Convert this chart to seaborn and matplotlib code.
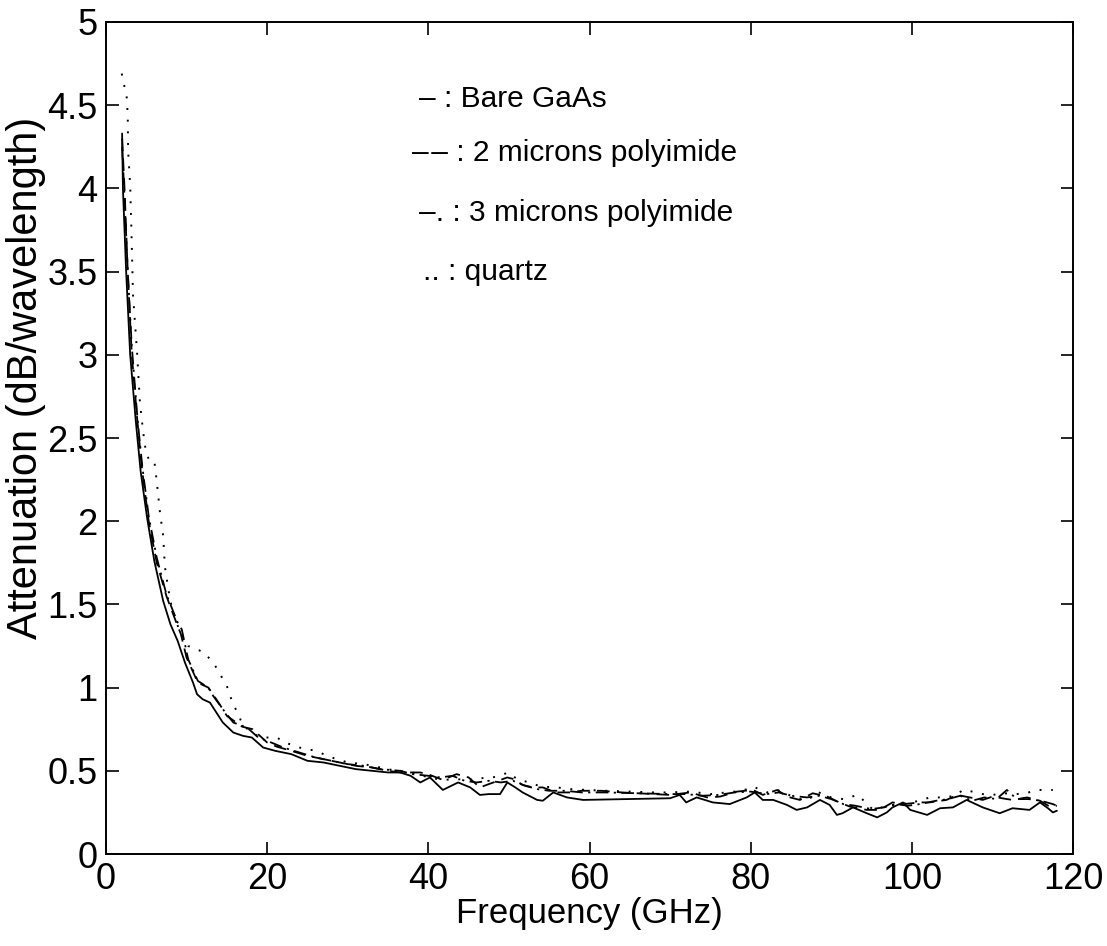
import numpy as np
import pandas as pd
import matplotlib
matplotlib.use("Agg")
import matplotlib.pyplot as plt
import seaborn as sns

# ---------------- data ----------------
freq_bare = [2.0, 2.1, 2.5, 3.0, 3.7, 4.3, 5.1, 6.0, 7.1, 8.0, 8.9, 9.8, 10.8, 11.3, 12.0, 12.9,
             13.7, 14.5, 15.8, 17.0, 18.1, 19.5, 21, 23, 25, 27, 29, 31, 33, 35, 36.5, 37.8, 39,
             40.2, 41.8, 43.7, 45.2, 46.4, 47.5, 48.9, 49.8, 50.8, 51.7, 53.5, 54.2, 55.5, 57.2,
             59.2, 70, 71.2, 72, 73.3, 75.3, 77.4, 79.5, 80.5, 81.5, 82.8, 84.5, 85.7, 87, 88.6,
             89.8, 90.7, 91.4, 92.7, 94.4, 95.7, 96.9, 97.6, 98.9, 99.8, 101.9, 103.5, 105.1,
             106.8, 108.8, 110.9, 112.5, 114.6, 115.9, 116.9, 117.5, 118]
att_bare = [4.33, 4.0, 3.5, 3.0, 2.6, 2.3, 2.02, 1.76, 1.52, 1.38, 1.28, 1.15, 1.03, 0.96, 0.93, 0.91,
            0.85, 0.79, 0.73, 0.71, 0.70, 0.64, 0.62, 0.60, 0.56, 0.55, 0.53, 0.51, 0.50, 0.49, 0.49,
            0.47, 0.43, 0.46, 0.385, 0.43, 0.40, 0.355, 0.36, 0.36, 0.43, 0.40, 0.37, 0.325, 0.32,
            0.37, 0.34, 0.325, 0.335, 0.355, 0.31, 0.34, 0.31, 0.30, 0.34, 0.37, 0.325, 0.325,
            0.295, 0.265, 0.28, 0.325, 0.295, 0.235, 0.245, 0.28, 0.245, 0.22, 0.25, 0.28, 0.31,
            0.265, 0.235, 0.275, 0.28, 0.325, 0.28, 0.245, 0.275, 0.265, 0.31, 0.275, 0.25, 0.26]

freq_pi2 = [2.0, 2.3, 2.7, 3.2, 3.9, 4.5, 5.3, 6.3, 7.5, 8.5, 9.3, 10.0, 11.4, 12.7, 14.1, 15.0,
            16.9, 18.2, 20, 21.2, 23, 25, 27, 29, 31, 33, 35, 36.5, 39, 40.2, 41.8, 43.5, 45,
            46.4, 47.5, 49.8, 50.6, 51.7, 53, 54.2, 55.9, 57.5, 59, 61.5, 64, 68, 70, 72.5, 74.6,
            76.2, 78.3, 80.3, 81.5, 83.3, 84.5, 86.1, 87.7, 89.5, 91, 92.3, 94.4, 96, 97.6, 99,
            101, 102.2, 104.3, 105.6, 107.2, 108.8, 110, 111.8, 112.5, 114.3, 115.9, 117.1, 118]
att_pi2 = [4.3, 4.0, 3.5, 3.0, 2.6, 2.3, 2.0, 1.75, 1.55, 1.42, 1.32, 1.18, 1.03, 1.0, 0.9, 0.83,
           0.765, 0.75, 0.67, 0.645, 0.62, 0.59, 0.57, 0.55, 0.53, 0.52, 0.50, 0.49, 0.49, 0.475,
           0.445, 0.48, 0.46, 0.40, 0.42, 0.46, 0.45, 0.415, 0.40, 0.40, 0.37, 0.37, 0.38, 0.38,
           0.37, 0.36, 0.355, 0.37, 0.34, 0.345, 0.375, 0.385, 0.355, 0.385, 0.345, 0.325, 0.365,
           0.345, 0.31, 0.285, 0.265, 0.265, 0.31, 0.30, 0.31, 0.31, 0.325, 0.355, 0.34, 0.325,
           0.345, 0.33, 0.325, 0.34, 0.32, 0.285, 0.29]

freq_pi3 = [2.0, 2.3, 2.7, 3.2, 3.9, 4.5, 5.3, 6.3, 7.5, 8.9, 9.4, 10.2, 11.4, 12.7, 13.3, 14.5,
            15.8, 17.5, 18.9, 20.5, 22, 24, 26, 28, 30, 32, 34, 36.5, 38, 40, 41.5, 43, 44.5, 46,
            47.5, 49, 50.5, 52, 53.5, 55, 57, 59, 62, 66, 70, 72, 74, 76, 78, 80, 82, 83.5, 85,
            87, 88.5, 90, 91.5, 93, 95, 96.5, 98, 99.5, 101, 103, 104.5, 106, 107.5, 109, 110.5,
            111.8, 113, 114.5, 116, 117.5, 118]
att_pi3 = [4.25, 3.95, 3.5, 3.05, 2.62, 2.33, 2.03, 1.78, 1.56, 1.39, 1.35, 1.17, 1.04, 1.0, 0.95,
           0.87, 0.79, 0.76, 0.70, 0.67, 0.64, 0.61, 0.58, 0.56, 0.54, 0.53, 0.51, 0.50, 0.48, 0.47,
           0.46, 0.47, 0.44, 0.43, 0.44, 0.43, 0.44, 0.41, 0.39, 0.38, 0.38, 0.37, 0.37, 0.365,
           0.36, 0.36, 0.35, 0.355, 0.37, 0.375, 0.36, 0.37, 0.35, 0.34, 0.35, 0.33, 0.30, 0.29,
           0.27, 0.28, 0.30, 0.29, 0.30, 0.32, 0.33, 0.35, 0.32, 0.34, 0.33, 0.385, 0.33, 0.33,
           0.32, 0.30, 0.29]

freq_quartz = [1.95, 2.6, 2.7, 2.75, 3.0, 3.2, 3.35, 3.85, 4.2, 4.6, 5.0, 5.5, 6.0, 6.3, 6.7, 7.1,
               7.3, 7.7, 8.2, 9.2, 10.2, 11.3, 12.2, 13.1, 13.7, 14.4, 15.0, 15.4, 15.9, 16.5,
               17.0, 19.1, 21.2, 22.2, 24, 26, 28, 30, 32, 34, 36, 38, 40, 41.8, 43.5, 45, 46.4,
               48, 50, 51, 52.5, 54, 56, 57.5, 59.7, 62, 65, 68, 70, 72.5, 75, 77, 79, 80.3, 82,
               83.3, 85, 86.1, 87.2, 88.2, 90, 91.5, 93.3, 95.2, 97, 98.5, 99.8, 101, 102.2,
               104.3, 105.6, 106.3, 107.5, 108.8, 110, 111.5, 113, 114.5, 115.5, 116.5, 117.5]
att_quartz = [4.69, 4.54, 4.42, 4.22, 4.02, 3.66, 3.36, 3.02, 2.72, 2.54, 2.40, 2.36, 2.36, 2.24,
              2.05, 1.91, 1.73, 1.60, 1.47, 1.33, 1.25, 1.23, 1.21, 1.16, 1.12, 1.06, 1.01, 0.95,
              0.89, 0.83, 0.77, 0.70, 0.70, 0.67, 0.64, 0.62, 0.58, 0.55, 0.54, 0.52, 0.50, 0.49,
              0.46, 0.445, 0.45, 0.445, 0.455, 0.46, 0.49, 0.45, 0.43, 0.405, 0.40, 0.39, 0.385,
              0.38, 0.375, 0.37, 0.37, 0.375, 0.36, 0.37, 0.38, 0.405, 0.37, 0.385, 0.35, 0.33,
              0.325, 0.375, 0.34, 0.33, 0.355, 0.265, 0.29, 0.30, 0.31, 0.32, 0.34, 0.34, 0.355,
              0.385, 0.375, 0.36, 0.355, 0.365, 0.36, 0.37, 0.385, 0.385, 0.385]

legend_labels = ["\u2013 : Bare GaAs", "\u2013\u200a\u2013 : 2 microns polyimide",
                 "\u2013. : 3 microns polyimide", ".. : quartz"]
x_ticks = [0, 20, 40, 60, 80, 100, 120]
y_ticks = [0, 0.5, 1, 1.5, 2, 2.5, 3, 3.5, 4, 4.5, 5]
y_ticklabels = ["0", "0.5", "1", "1.5", "2", "2.5", "3", "3.5", "4", "4.5", "5"]

# ---------------- style ----------------
sns.set_style("ticks")
plt.rcParams["font.family"] = ["Liberation Sans", "DejaVu Sans"]
plt.rcParams["text.color"] = "black"
plt.rcParams["axes.labelcolor"] = "black"
plt.rcParams["xtick.color"] = "black"
plt.rcParams["ytick.color"] = "black"
plt.rcParams["xtick.direction"] = "in"
plt.rcParams["ytick.direction"] = "in"

fig = plt.figure(figsize=(11.07, 9.46), dpi=100)
ax = fig.add_axes([106 / 1107, 1 - 854 / 946, (1073 - 106) / 1107, (854 - 22) / 946])

series = [
    (freq_bare, att_bare, "-", 1.3),
    (freq_pi2, att_pi2, (0, (7, 4)), 1.3),
    (freq_pi3, att_pi3, (0, (7, 3, 1.2, 3)), 1.3),
    (freq_quartz, att_quartz, (0, (1, 5)), 1.4),
]
for fx, fy, ls, lw in series:
    df = pd.DataFrame({"f": fx, "a": fy})
    sns.lineplot(data=df, x="f", y="a", ax=ax, color="black", linestyle=ls,
                 linewidth=lw, estimator=None, sort=False)

ax.set_xlim(0, 120)
ax.set_ylim(0, 5)
ax.set_xticks(x_ticks)
ax.set_xticklabels([str(t) for t in x_ticks])
ax.set_yticks(y_ticks)
ax.set_yticklabels(y_ticklabels)
ax.tick_params(axis="both", which="both", direction="in", length=9, width=1.2,
               top=True, right=True, labelsize=26, colors="black", pad=6)
for sp in ax.spines.values():
    sp.set_visible(True)
    sp.set_linewidth(1.4)
    sp.set_color("black")

ax.set_xlabel("Frequency (GHz)", fontsize=25, labelpad=0, color="black")
ax.set_ylabel("Attenuation (dB/wavelength)", fontsize=30, color="black")
ax.yaxis.set_label_coords(-0.062, 0.572)

legend_x = [38.9, 38.0, 38.9, 39.4]
legend_y = [4.54, 4.21, 3.85, 3.50]
for lx, ly, lab in zip(legend_x, legend_y, legend_labels):
    ax.text(lx, ly, lab, fontsize=21.5, va="center", ha="left", color="black")

fig.savefig("out.png", dpi=100, facecolor="white")
